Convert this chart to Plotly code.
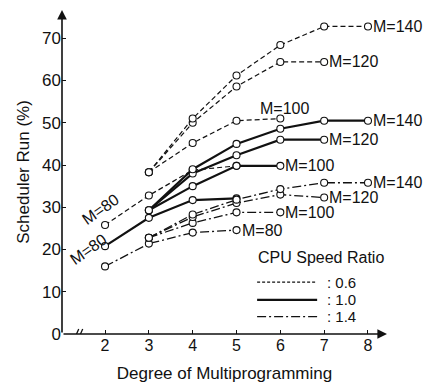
import plotly.graph_objects as go

# Degree of multiprogramming for each memory size M
degree_m80 = [2, 3, 4, 5]
degree_m100 = [3, 4, 5, 6]
degree_m120 = [3, 4, 5, 6, 7]
degree_m140 = [3, 4, 5, 6, 7, 8]

# Scheduler run (%) for CPU speed ratio 0.6
ratio06_m80 = [25.8, 32.8, 38.8, 39.8]
ratio06_m100 = [38.3, 45.2, 50.5, 51.0]
ratio06_m120 = [38.3, 50.0, 58.6, 64.4, 64.4]
ratio06_m140 = [38.3, 51.0, 61.2, 68.4, 72.8, 72.8]

# Scheduler run (%) for CPU speed ratio 1.0
ratio10_m80 = [20.8, 27.5, 31.7, 32.1]
ratio10_m100 = [29.3, 35.0, 39.8, 39.8]
ratio10_m120 = [29.3, 38.0, 42.3, 46.0, 46.0]
ratio10_m140 = [29.3, 39.0, 45.0, 48.6, 50.5, 50.5]

# Scheduler run (%) for CPU speed ratio 1.4
ratio14_m80 = [16.0, 21.4, 24.0, 24.6]
ratio14_m100 = [22.8, 26.3, 28.8, 28.8]
ratio14_m120 = [22.8, 27.7, 31.0, 33.0, 32.3]
ratio14_m140 = [22.8, 28.3, 31.8, 34.3, 35.8, 35.8]

x_ticks = [2, 3, 4, 5, 6, 7, 8]
y_ticks = [0, 10, 20, 30, 40, 50, 60, 70]
ratio_labels = [": 0.6", ": 1.0", ": 1.4"]

FONT = "Liberation Sans"
INK = "#111111"
X0, X1 = 1.018, 8.434
Y0, Y1 = 0.0, 76.7

styles = {
    "0.6": dict(width=1.2, dash="5px,3px"),
    "1.0": dict(width=2.2, dash="solid"),
    "1.4": dict(width=1.3, dash="9px,3px,2px,3px"),
}

series = [
    ("0.6", "M=80", degree_m80, ratio06_m80),
    ("0.6", "M=100", degree_m100, ratio06_m100),
    ("0.6", "M=120", degree_m120, ratio06_m120),
    ("0.6", "M=140", degree_m140, ratio06_m140),
    ("1.0", "M=80", degree_m80, ratio10_m80),
    ("1.0", "M=100", degree_m100, ratio10_m100),
    ("1.0", "M=120", degree_m120, ratio10_m120),
    ("1.0", "M=140", degree_m140, ratio10_m140),
    ("1.4", "M=80", degree_m80, ratio14_m80),
    ("1.4", "M=100", degree_m100, ratio14_m100),
    ("1.4", "M=120", degree_m120, ratio14_m120),
    ("1.4", "M=140", degree_m140, ratio14_m140),
]

fig = go.Figure()
annotations = []

for ratio, mlabel, xs, ys in series:
    st = styles[ratio]
    fig.add_trace(go.Scatter(
        x=xs, y=ys, mode="lines+markers",
        line=dict(color=INK, width=st["width"], dash=st["dash"]),
        marker=dict(symbol="circle", size=7, color="white",
                    line=dict(color=INK, width=1.1)),
        showlegend=False, cliponaxis=False,
    ))
    # curve labels
    if mlabel == "M=80" and ratio in ("0.6", "1.0"):
        annotations.append(dict(
            x=xs[0], y=ys[0], text=mlabel, showarrow=False,
            textangle=-35, xanchor="center", yanchor="middle",
            xshift=-5 if ratio == "0.6" else -17,
            yshift=16 if ratio == "0.6" else -3,
            font=dict(family=FONT, size=16, color=INK)))
    elif mlabel == "M=100" and ratio == "0.6":
        annotations.append(dict(
            x=xs[-1], y=ys[-1], text=mlabel, showarrow=False,
            xanchor="center", yanchor="bottom", xshift=4, yshift=0,
            font=dict(family=FONT, size=16, color=INK)))
    else:
        annotations.append(dict(
            x=xs[-1], y=ys[-1], text=mlabel, showarrow=False,
            xanchor="left", yanchor="middle", xshift=3,
            font=dict(family=FONT, size=16, color=INK)))

# axes drawn as arrows
annotations.append(dict(x=X0, y=Y1, ax=X0, ay=Y0, xref="x", yref="y",
                        axref="x", ayref="y", showarrow=True, text="",
                        arrowhead=2, arrowsize=1.2, arrowwidth=1.6,
                        arrowcolor=INK))
annotations.append(dict(x=X1, y=Y0, ax=X0, ay=Y0, xref="x", yref="y",
                        axref="x", ayref="y", showarrow=True, text="",
                        arrowhead=2, arrowsize=1.2, arrowwidth=1.6,
                        arrowcolor=INK))

# legend block
annotations.append(dict(x=5.45, y=18.2, text="CPU Speed Ratio", showarrow=False,
                        xanchor="left", yanchor="middle",
                        font=dict(family=FONT, size=16, color=INK)))
shapes = []
legend_rows = [("0.6", 12.3), ("1.0", 8.1), ("1.4", 4.1)]
for (ratio, ly), lab in zip(legend_rows, ratio_labels):
    st = styles[ratio]
    shapes.append(dict(type="line", xref="x", yref="y", x0=5.47, x1=6.84,
                       y0=ly, y1=ly,
                       line=dict(color=INK, width=st["width"],
                                 dash="3px,2px" if ratio == "0.6" else st["dash"])))
    annotations.append(dict(x=7.05, y=ly, text=lab, showarrow=False,
                            xanchor="left", yanchor="middle", borderpad=0,
                            font=dict(family=FONT, size=15, color=INK)))

# axis break marks on the x axis
for dx in (0.0, 0.09):
    shapes.append(dict(type="line", xref="x", yref="y",
                       x0=1.30 + dx, x1=1.40 + dx, y0=-1.2, y1=1.2,
                       line=dict(color=INK, width=1.3)))

fig.update_layout(
    width=423, height=390,
    margin=dict(l=62, r=36, t=10, b=50),
    paper_bgcolor="white", plot_bgcolor="white",
    annotations=annotations, shapes=shapes,
    font=dict(family=FONT, size=16, color=INK),
    xaxis=dict(range=[X0, X1], tickvals=x_ticks, ticks="inside", ticklen=4,
               tickcolor=INK, showgrid=False, zeroline=False, showline=False,
               tickfont=dict(family=FONT, size=16, color=INK),
               title=dict(text="Degree of Multiprogramming", standoff=14,
                          font=dict(family=FONT, size=17, color=INK))),
    yaxis=dict(range=[Y0, Y1], tickvals=y_ticks, ticks="inside", ticklen=4,
               tickcolor=INK, showgrid=False, zeroline=False, showline=False,
               tickfont=dict(family=FONT, size=17, color=INK),
               title=dict(text="Scheduler Run (%)", standoff=8,
                          font=dict(family=FONT, size=17, color=INK))),
)

fig.write_html("out.html")
